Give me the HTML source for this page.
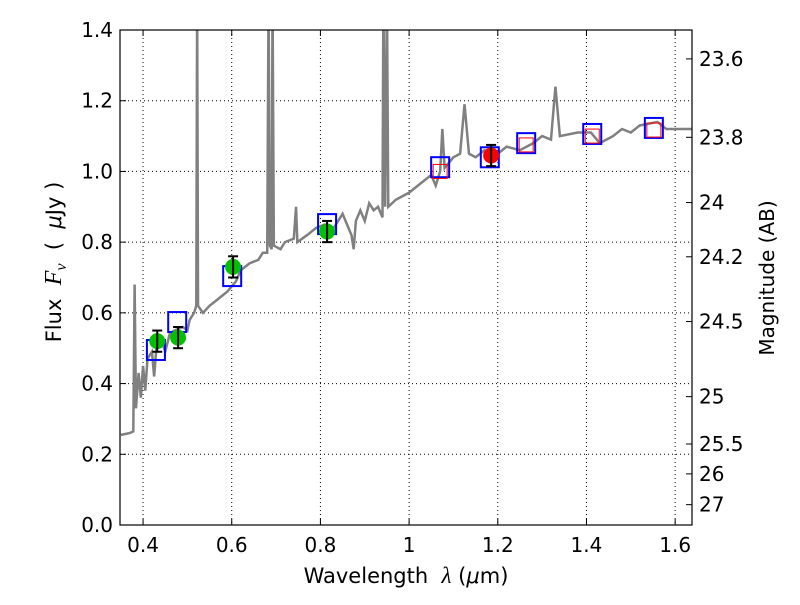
<!DOCTYPE html>
<html><head><meta charset="utf-8"><style>
body{margin:0;background:#fff;}
svg text{font-family:"DejaVu Sans","Liberation Sans",sans-serif;fill:#000;}
</style></head><body>
<svg id="chart" width="800" height="600" xmlns="http://www.w3.org/2000/svg"></svg>
<script>
const specWave=[0.35,0.37,0.378,0.381,0.384,0.39,0.395,0.40,0.405,0.41,0.42,0.425,0.43,0.44,0.45,0.46,0.47,0.49,0.50,0.505,0.515,0.52,0.522,0.524,0.535,0.55,0.57,0.59,0.61,0.62,0.64,0.66,0.67,0.68,0.683,0.686,0.69,0.692,0.695,0.71,0.72,0.74,0.745,0.748,0.77,0.79,0.81,0.83,0.85,0.86,0.87,0.875,0.88,0.89,0.90,0.91,0.92,0.93,0.94,0.942,0.946,0.95,0.953,0.97,1.0,1.03,1.05,1.06,1.07,1.075,1.08,1.10,1.115,1.125,1.135,1.15,1.17,1.20,1.22,1.25,1.28,1.30,1.32,1.33,1.34,1.38,1.41,1.43,1.46,1.48,1.50,1.52,1.56,1.58,1.64];
const specFlux=[0.255,0.26,0.265,0.68,0.33,0.43,0.36,0.45,0.38,0.47,0.49,0.42,0.50,0.53,0.49,0.54,0.55,0.56,0.55,0.58,0.60,0.62,1.5,0.62,0.60,0.62,0.64,0.66,0.69,0.72,0.74,0.75,0.77,0.77,1.5,0.79,0.78,1.5,0.79,0.78,0.80,0.81,0.90,0.80,0.82,0.84,0.85,0.84,0.88,0.85,0.82,0.78,0.86,0.89,0.86,0.91,0.89,0.90,0.87,1.5,0.90,1.5,0.90,0.92,0.94,0.97,0.99,0.96,1.00,1.12,1.01,1.04,1.05,1.19,1.05,1.04,1.06,1.05,1.07,1.06,1.08,1.10,1.09,1.24,1.10,1.11,1.11,1.08,1.10,1.12,1.11,1.13,1.14,1.12,1.12];
const modelWave=[0.429,0.477,0.601,0.815,1.07,1.182,1.264,1.413,1.552];
const modelFlux=[0.495,0.574,0.704,0.851,1.012,1.04,1.08,1.106,1.123];
const redModelWave=[1.07,1.264,1.413,1.552];
const redModelFlux=[1.0,1.075,1.10,1.117];
const obsWave=[0.432,0.479,0.603,0.815];
const obsFlux=[0.52,0.53,0.73,0.83];
const obsErr=[0.03,0.03,0.03,0.03];
const redObsWave=[1.185];
const redObsFlux=[1.045];
const redObsErr=[0.03];
const xTicks=[0.4,0.6,0.8,1.0,1.2,1.4,1.6];
const xTickLabels=["0.4","0.6","0.8","1","1.2","1.4","1.6"];
const yTicks=[0,0.2,0.4,0.6,0.8,1.0,1.2,1.4];
const yTickLabels=["0.0","0.2","0.4","0.6","0.8","1.0","1.2","1.4"];
const magTicks=[23.6,23.8,24,24.2,24.5,25,25.5,26,27];

const L=120,R=692,T=30,B=525,X0=0.348,X1=1.638,Y0=0,Y1=1.4;
const sx=v=>L+(v-X0)/(X1-X0)*(R-L);
const sy=v=>B-(v-Y0)/(Y1-Y0)*(B-T);
const svg=document.getElementById('chart');
const NS='http://www.w3.org/2000/svg';
function mk(tag,at,parent){const e=document.createElementNS(NS,tag);for(const k in at)e.setAttribute(k,at[k]);(parent||svg).appendChild(e);return e;}
const clip=mk('clipPath',{id:'pc'});mk('rect',{x:L,y:T,width:R-L,height:B-T},clip);
xTicks.forEach((t,i)=>{
 const g=mk('line',{x1:sx(t),x2:sx(t),y1:T,y2:B,stroke:'#000','stroke-width':1,'stroke-dasharray':'1,3'});
 
 mk('line',{x1:sx(t),x2:sx(t),y1:B,y2:B-6,stroke:'#000'});mk('line',{x1:sx(t),x2:sx(t),y1:T,y2:T+6,stroke:'#000'});
 const tx=mk('text',{x:sx(t),y:B+27,'font-size':20,'text-anchor':'middle'});tx.textContent=xTickLabels[i];
 
});
yTicks.forEach((t,i)=>{
 const g=mk('line',{x1:L,x2:R,y1:sy(t),y2:sy(t),stroke:'#000','stroke-width':1,'stroke-dasharray':'1,3'});
 
 mk('line',{x1:L,x2:L+6,y1:sy(t),y2:sy(t),stroke:'#000'});
 const tx=mk('text',{x:L-7,y:sy(t)+7,'font-size':20,'text-anchor':'end'});tx.textContent=yTickLabels[i];
 
});
magTicks.forEach(m=>{
 const f=Math.pow(10,(23.9-m)/2.5);const y=sy(f);
 mk('line',{x1:R,x2:R-6,y1:y,y2:y,stroke:'#000'});
 const tx=mk('text',{x:R+7,y:y+7,'font-size':20});tx.textContent=String(m);
 
});
const sp=mk('polyline',{points:specWave.map((w,i)=>sx(w)+','+sy(specFlux[i])).join(' '),fill:'none',stroke:'#808080','stroke-width':2.5,'clip-path':'url(#pc)'});

modelWave.forEach((w,i)=>{const r=mk('rect',{x:sx(w)-9,y:sy(modelFlux[i])-10,width:18,height:20,fill:'none',stroke:'#0000ff','stroke-width':2});
 });
redModelWave.forEach((w,i)=>{const r=mk('rect',{x:sx(w)-7,y:sy(redModelFlux[i])-7,width:14,height:14,fill:'none',stroke:'#ff0000','stroke-width':1});
 });
function pts(ws,fs,es,col,name){ws.forEach((w,i)=>{
 const x=sx(w),y=sy(fs[i]);
 const c=mk('circle',{cx:x,cy:y,r:8,fill:col});
 const y1=sy(fs[i]+es[i]),y2=sy(fs[i]-es[i]);
 const e=mk('line',{x1:x,x2:x,y1:y1,y2:y2,stroke:'#000','stroke-width':2});
 mk('line',{x1:x-5,x2:x+5,y1:y1,y2:y1,stroke:'#000','stroke-width':2});mk('line',{x1:x-5,x2:x+5,y1:y2,y2:y2,stroke:'#000','stroke-width':2});
});}
pts(obsWave,obsFlux,obsErr,'#00c000','observed-point');
pts(redObsWave,redObsFlux,redObsErr,'#ff0000','observed-red-point');
const fr=mk('rect',{x:L,y:T,width:R-L,height:B-T,fill:'none',stroke:'#000','stroke-width':1.2});

</script>
<svg width="800" height="600" style="position:absolute;left:0;top:0" xmlns="http://www.w3.org/2000/svg">
<text x="406" y="583" font-size="21" text-anchor="middle" xml:space="preserve">Wavelength  <tspan font-family="Liberation Serif" font-style="italic" font-size="23">λ</tspan> (<tspan font-style="italic">μ</tspan>m)</text>
<text transform="translate(61,262) rotate(-90)" font-size="21" text-anchor="middle" xml:space="preserve">Flux  <tspan font-family="Liberation Serif" font-style="italic" font-size="24">F</tspan><tspan font-family="Liberation Serif" font-style="italic" font-size="16" dy="5">ν</tspan><tspan dy="-5">  (  </tspan><tspan font-style="italic">μ</tspan>Jy )</text>
<text transform="translate(774,278) rotate(-90)" font-size="20" text-anchor="middle">Magnitude (AB)</text>
</svg>
</body></html>
